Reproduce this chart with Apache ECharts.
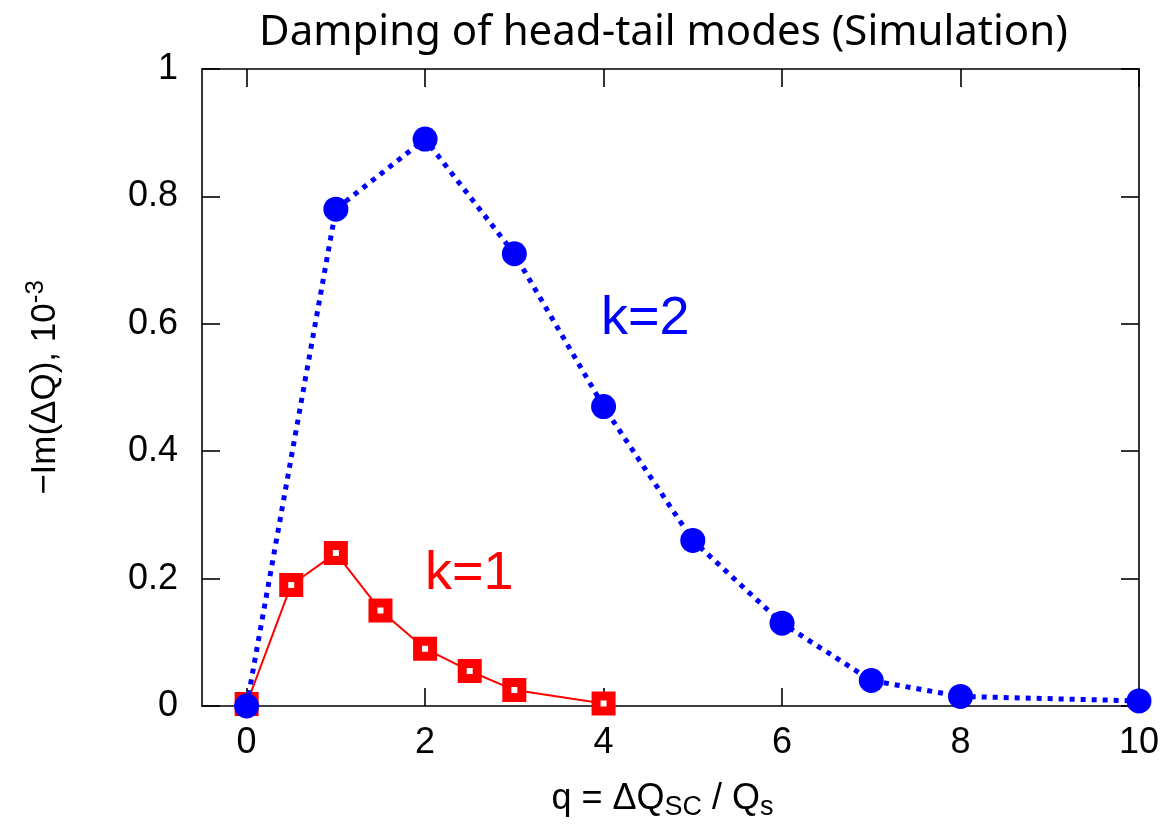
<!DOCTYPE html>
<html><head><meta charset="utf-8">
<script src="https://cdn.jsdelivr.net/npm/echarts@6/dist/echarts.min.js"></script>
<style>html,body{margin:0;padding:0;background:#fff}#c{width:1169px;height:826px}</style>
</head><body><div id="c"></div>
<script>
const titleText = 'Damping of head-tail modes (Simulation)';
const k1X = [0, 0.5, 1, 1.5, 2, 2.5, 3, 4];
const k1Y = [0.003, 0.19, 0.24, 0.15, 0.09, 0.055, 0.025, 0.004];
const k2X = [0, 1, 2, 3, 4, 5, 6, 7, 8, 10];
const k2Y = [0.0, 0.78, 0.89, 0.71, 0.47, 0.26, 0.13, 0.04, 0.015, 0.008];
const xTicks = [0, 2, 4, 6, 8, 10];
const yTicks = [0, 0.2, 0.4, 0.6, 0.8, 1];

const chart = echarts.init(document.getElementById('c'), null, {renderer: 'canvas'});
const axisFont = 'Liberation Sans';
const lineStyle = {color: '#000', width: 1.6};
const baseX = {
  type: 'value', min: -0.5, max: 10,
  axisLine: {show: true, onZero: false, lineStyle},
  splitLine: {show: false},
  axisTick: {show: true, inside: true, length: 18, customValues: xTicks, lineStyle},
};
const baseY = {
  type: 'value', min: 0, max: 1, interval: 0.2,
  axisLine: {show: true, onZero: false, lineStyle},
  splitLine: {show: false},
  axisTick: {show: true, inside: true, length: 18, lineStyle},
};
chart.setOption({
  animation: false,
  title: {
    text: titleText, left: 254, top: 7,
    textStyle: {fontFamily: 'Noto Sans', fontWeight: 'normal', fontSize: 42, color: '#000'}
  },
  grid: {left: 202, top: 69, right: 30, bottom: 119},
  xAxis: [
    Object.assign({}, baseX, {
      position: 'bottom',
      axisLabel: {show: true, customValues: xTicks, margin: 19, fontFamily: axisFont, fontSize: 36, color: '#000'},
      name: '{n|q = ΔQ}{s|SC}{n| / Q}{s|s}',
      nameLocation: 'middle', nameGap: 72,
      nameTextStyle: {padding: [0, 16, 0, 0], rich: {
        n: {fontFamily: axisFont, fontSize: 36, color: '#000'},
        s: {fontFamily: axisFont, fontSize: 27, color: '#000', padding: [16, 0, 0, 0]}
      }}
    }),
    Object.assign({}, baseX, {position: 'top', axisLabel: {show: false}})
  ],
  yAxis: [
    Object.assign({}, baseY, {
      position: 'left',
      axisLabel: {show: true, margin: 24, fontFamily: axisFont, fontSize: 36, color: '#000',
        formatter: v => String(+v.toFixed(1))},
      name: '{n|−Im(ΔQ), 10}{p|-3}',
      nameLocation: 'middle', nameGap: 135, nameRotate: 90,
      nameTextStyle: {rich: {
        n: {fontFamily: axisFont, fontSize: 35, color: '#000'},
        p: {fontFamily: axisFont, fontSize: 26, color: '#000', padding: [0, 0, 18, 0]}
      }}
    }),
    Object.assign({}, baseY, {position: 'right', axisLabel: {show: false}})
  ],
  series: [
    {
      name: 'k=1', type: 'line',
      data: k1X.map((x, i) => [x, k1Y[i]]),
      symbol: 'rect', symbolSize: 15, showAllSymbol: true,
      lineStyle: {color: '#ff0000', width: 2},
      itemStyle: {color: '#ffffff', borderColor: '#ff0000', borderWidth: 9},
      z: 2
    },
    {
      name: 'k=2', type: 'line',
      data: k2X.map((x, i) => [x, k2Y[i]]),
      symbol: 'circle', symbolSize: 25, showAllSymbol: true,
      lineStyle: {color: '#0000ff', width: 5, type: [5, 6]},
      itemStyle: {color: '#0000ff', borderWidth: 0},
      z: 3
    }
  ]
});

chart.setOption({
  graphic: [
    {type: 'text', left: 601, top: 292, style: {text: 'k=2', fill: '#0000ff', font: '54px "Liberation Sans"'}},
    {type: 'text', left: 425, top: 547, style: {text: 'k=1', fill: '#ff0000', font: '54px "Liberation Sans"'}}
  ]
});
</script>
</body></html>
